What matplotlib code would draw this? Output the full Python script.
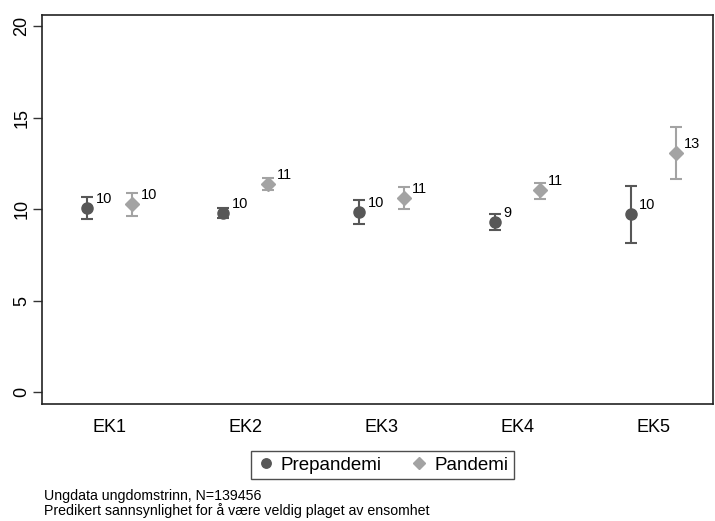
import numpy as np
import matplotlib
matplotlib.use('Agg')
import matplotlib.pyplot as plt

plt.rcParams['font.family'] = ['Liberation Sans', 'DejaVu Sans']

categories = ['EK1', 'EK2', 'EK3', 'EK4', 'EK5']

pre_est = [10.08, 9.81, 9.83, 9.28, 9.72]
pre_lo = [9.46, 9.54, 9.17, 8.86, 8.14]
pre_hi = [10.68, 10.05, 10.50, 9.76, 11.27]
pre_lab = ['10', '10', '10', '9', '10']

pan_est = [10.27, 11.36, 10.63, 11.03, 13.05]
pan_lo = [9.63, 11.05, 9.99, 10.56, 11.63]
pan_hi = [10.90, 11.69, 11.23, 11.45, 14.47]
pan_lab = ['10', '11', '11', '11', '13']

fig = plt.figure(figsize=(7.15, 5.21), dpi=100)
ax = fig.add_axes([0.0587, 0.2246, 0.9383, 0.7466])

x = np.arange(1, len(categories) + 1)
off = 0.165

def draw(xs, est, lo, hi, labs, color, marker, ms, name):
    est = np.array(est)
    err = [est - np.array(lo), np.array(hi) - est]
    ax.errorbar(xs, est, yerr=err, fmt='none', ecolor=color, elinewidth=1.5,
                capsize=4, capthick=1.5, zorder=2)
    ax.plot(xs, est, linestyle='none', marker=marker, color=color, ms=ms,
            label=name, zorder=3)
    for xi, yi, t in zip(xs, est, labs):
        ax.annotate(t, (xi, yi), xytext=(6, 1.5), textcoords='offset points',
                    fontsize=10.5, ha='left', va='bottom')

draw(x - off, pre_est, pre_lo, pre_hi, pre_lab, '#575757', 'o', 8, 'Prepandemi')
draw(x + off, pan_est, pan_lo, pan_hi, pan_lab, '#a3a3a3', 'D', 7.5, 'Pandemi')

ax.set_xlim(0.5, 5.44)
ax.set_ylim(-0.64, 20.6)
ax.set_xticks(x)
ax.set_xticklabels(categories, fontsize=13)
ax.tick_params(axis='x', length=0, pad=11)
ax.set_yticks([0, 5, 10, 15, 20])
ax.set_yticklabels(['0', '5', '10', '15', '20'], rotation=90, va='center', fontsize=13)
ax.tick_params(axis='y', length=6.5, width=1, color='#333333', pad=2)
for s in ax.spines.values():
    s.set_linewidth(1.2)
    s.set_color('#222222')

leg = fig.legend(loc='center', bbox_to_anchor=(0.535, 0.1075), ncol=2, fontsize=13.5,
                 frameon=True, fancybox=False, edgecolor='#222222',
                 handletextpad=0.3, columnspacing=1.5, borderpad=0.3,
                 handlelength=1.0, markerscale=0.85)
leg.get_frame().set_linewidth(1.0)

fig.text(0.062, 0.0475, 'Ungdata ungdomstrinn, N=139456', fontsize=10.2, va='center')
fig.text(0.062, 0.0205, 'Predikert sannsynlighet for å være veldig plaget av ensomhet',
         fontsize=10.2, va='center')

fig.savefig('out.png', dpi=100)
